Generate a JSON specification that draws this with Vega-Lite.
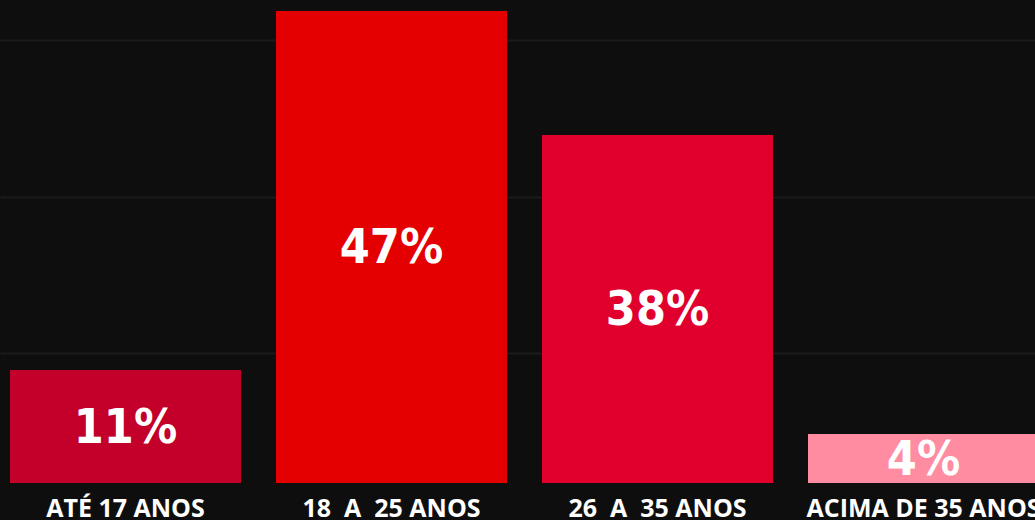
{
  "$schema": "https://vega.github.io/schema/vega-lite/v6.json",
  "autosize": {"type": "none"},
  "padding": {"left": 0, "right": 0, "top": 0, "bottom": 37},
  "width": 1035,
  "height": 483,
  "background": "#0e0e0e",
  "config": {"view": {"stroke": null}},
  "data": {
    "values": [
      {"faixa": "ATÉ 17 ANOS", "rotulo": "11%", "altura": 11.3, "cor": "#c3002a"},
      {"faixa": "18\u00a0 A\u00a0 25 ANOS", "rotulo": "47%", "altura": 47.2, "cor": "#e40000"},
      {"faixa": "26\u00a0 A\u00a0 35 ANOS", "rotulo": "38%", "altura": 34.8, "cor": "#e1002d"},
      {"faixa": "ACIMA DE 35 ANOS", "rotulo": "4%", "altura": 4.9, "cor": "#ff8ca1"}
    ]
  },
  "transform": [{"calculate": "datum.altura / 2", "as": "meio"}],
  "encoding": {
    "x": {
      "field": "faixa",
      "type": "nominal",
      "sort": null,
      "scale": {"range": [0, 1049], "paddingInner": 0.1316, "paddingOuter": 0.0376},
      "axis": {
        "title": null,
        "ticks": false,
        "domain": false,
        "labelAngle": 0,
        "labelColor": "#ffffff",
        "labelFont": "Open Sans",
        "labelFontWeight": "bold",
        "labelFontSize": 25,
        "labelBaseline": "alphabetic",
        "labelPadding": 33,
        "labelOverlap": false,
        "labelLimit": 400
      }
    }
  },
  "layer": [
    {
      "mark": {"type": "bar", "clip": false},
      "encoding": {
        "y": {
          "field": "altura",
          "type": "quantitative",
          "scale": {"domain": [0, 48.3], "nice": false, "zero": true},
          "axis": {
            "title": null,
            "labels": false,
            "ticks": false,
            "domain": false,
            "grid": true,
            "values": [13.0, 28.6, 44.3],
            "gridColor": "#1b1b1b",
            "gridWidth": 2
          }
        },
        "color": {"field": "cor", "type": "nominal", "scale": null, "legend": null}
      }
    },
    {
      "mark": {
        "type": "text",
        "color": "#ffffff",
        "font": "DejaVu Sans Condensed",
        "fontWeight": "bold",
        "fontSize": 48,
        "baseline": "middle",
        "align": "center",
        "dy": 2
      },
      "encoding": {
        "y": {"field": "meio", "type": "quantitative", "scale": {"domain": [0, 48.3], "nice": false}},
        "text": {"field": "rotulo", "type": "nominal"}
      }
    }
  ]
}
